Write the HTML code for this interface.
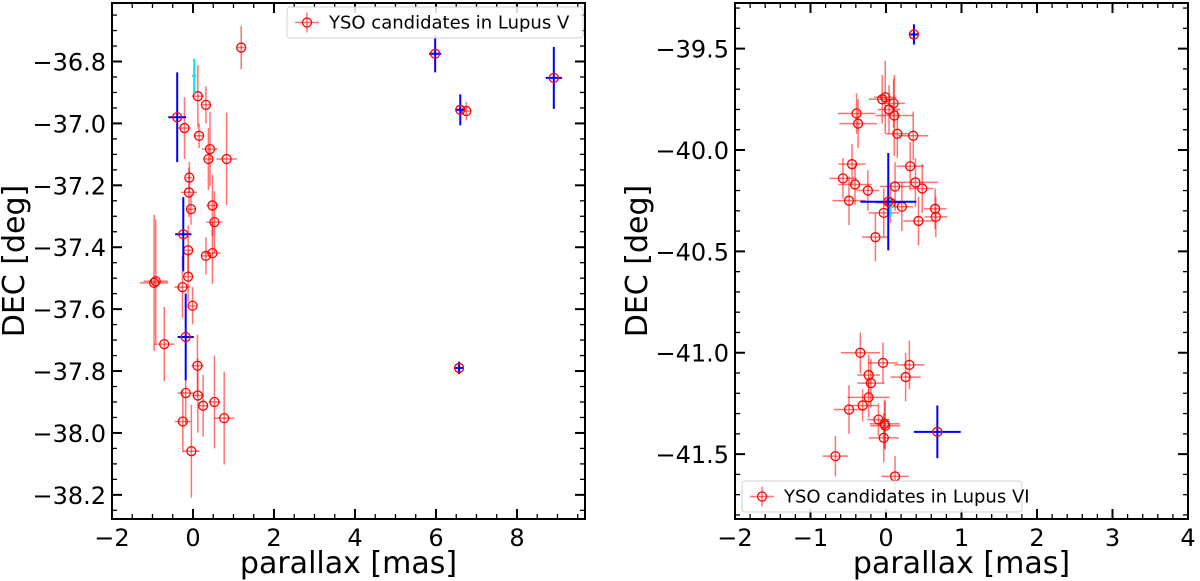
<!DOCTYPE html>
<html><head><meta charset="utf-8"><style>
body{margin:0;background:#fff;}
svg{display:block;font-family:"DejaVu Sans","Liberation Sans",sans-serif;}
</style></head><body>
<svg id="chart" width="1200" height="581" viewBox="0 0 1200 581"></svg>
<script>
// ---- Left panel (Lupus V) data ----
const lRedX=[1.19,0.12,0.32,-0.21,0.15,0.42,0.38,0.83,-0.09,-0.10,-0.05,0.48,0.53,-0.12,0.32,0.48,-0.12,-0.96,-0.92,-0.26,-0.01,-0.71,0.11,-0.18,0.12,0.25,0.53,0.77,-0.25,-0.04,6.75];
const lRedY=[-36.755,-36.912,-36.94,-37.015,-37.04,-37.083,-37.115,-37.115,-37.175,-37.223,-37.277,-37.265,-37.319,-37.41,-37.428,-37.419,-37.495,-37.515,-37.51,-37.529,-37.589,-37.713,-37.783,-37.871,-37.879,-37.912,-37.9,-37.952,-37.963,-38.059,-36.96];
const lRedXe=[0.1,0.15,0.1,0.15,0.1,0.2,0.12,0.25,0.08,0.2,0.1,0.15,0.2,0.12,0.12,0.2,0.12,0.35,0.3,0.2,0.08,0.25,0.15,0.2,0.15,0.12,0.15,0.25,0.2,0.2,0.1];
const lRedYe=[0.07,0.1,0.06,0.1,0.04,0.12,0.1,0.15,0.05,0.08,0.05,0.1,0.1,0.08,0.06,0.1,0.08,0.22,0.2,0.1,0.06,0.12,0.1,0.1,0.12,0.1,0.15,0.15,0.1,0.15,0.03];
const lBlueX=[-0.39,-0.24,-0.18,5.98,6.60,8.91,6.57];
const lBlueY=[-36.98,-37.358,-37.69,-36.775,-36.956,-36.853,-37.79];
const lBlueXe=[0.22,0.2,0.2,0.15,0.12,0.2,0.1];
const lBlueYe=[0.145,0.12,0.14,0.06,0.05,0.1,0.02];
const lCyanX=[0.03];
const lCyanY=[-36.846];
const lCyanXe=[0.05];
const lCyanYe=[0.055];
// ---- Right panel (Lupus VI) data ----
const rRedX=[-0.01,-0.05,0.10,0.04,0.11,-0.39,-0.37,0.15,0.36,-0.45,0.32,-0.57,-0.41,0.12,0.39,0.48,-0.24,-0.49,0.06,0.21,0.65,0.66,-0.03,0.43,-0.14,-0.34,-0.04,0.31,-0.23,-0.20,0.26,-0.23,-0.31,-0.49,-0.10,-0.02,-0.01,-0.03,-0.67,0.12];
const rRedY=[-39.74,-39.75,-39.77,-39.80,-39.83,-39.82,-39.87,-39.92,-39.93,-40.07,-40.08,-40.14,-40.17,-40.18,-40.16,-40.19,-40.20,-40.25,-40.26,-40.28,-40.29,-40.33,-40.31,-40.35,-40.43,-41.00,-41.05,-41.06,-41.11,-41.15,-41.12,-41.22,-41.26,-41.28,-41.33,-41.35,-41.36,-41.42,-41.51,-41.61];
const rRedXe=[0.15,0.18,0.15,0.15,0.25,0.25,0.25,0.15,0.2,0.18,0.18,0.18,0.22,0.2,0.3,0.15,0.15,0.22,0.2,0.15,0.15,0.15,0.2,0.2,0.18,0.26,0.2,0.2,0.15,0.18,0.2,0.28,0.2,0.2,0.15,0.2,0.2,0.2,0.17,0.18];
const rRedYe=[0.18,0.12,0.12,0.12,0.2,0.1,0.12,0.12,0.12,0.1,0.12,0.1,0.1,0.12,0.12,0.12,0.1,0.12,0.1,0.12,0.1,0.1,0.12,0.12,0.12,0.1,0.1,0.12,0.1,0.12,0.12,0.1,0.08,0.12,0.08,0.12,0.12,0.12,0.1,0.1];
const rBlueX=[0.37,0.03,0.68];
const rBlueY=[-39.43,-40.255,-41.39];
const rBlueXe=[0.06,0.37,0.31];
const rBlueYe=[0.05,0.24,0.13];
const rCyanX=[0.06];
const rCyanY=[-40.28];
const rCyanXe=[0.04];
const rCyanYe=[0.05];

const NS="http://www.w3.org/2000/svg";
const svg=document.getElementById('chart');
function mk(tag,attrs,parent){const e=document.createElementNS(NS,tag);for(const k in attrs)e.setAttribute(k,attrs[k]);(parent||svg).appendChild(e);return e;}

function panel(cfg){
  const g=mk('g',{});
  
  
  const sx=v=>cfg.x0+(v-cfg.xmin)/(cfg.xmax-cfg.xmin)*(cfg.x1-cfg.x0);
  const sy=v=>cfg.y0+(cfg.ymax-v)/(cfg.ymax-cfg.ymin)*(cfg.y1-cfg.y0);
  function series(X,Y,XE,YE,color,op,name,lw,marker){
    for(let i=0;i<X.length;i++){
      const p=mk('g',{},g);
      
      
      const cx=sx(X[i]),cy=sy(Y[i]);
      mk('line',{x1:sx(X[i]-XE[i]),x2:sx(X[i]+XE[i]),y1:cy,y2:cy,stroke:color,'stroke-width':lw,'stroke-opacity':op},p);
      mk('line',{x1:cx,x2:cx,y1:sy(Y[i]-YE[i]),y2:sy(Y[i]+YE[i]),stroke:color,'stroke-width':lw,'stroke-opacity':op},p);
      if(marker) mk('circle',{cx:cx,cy:cy,r:4.5,fill:'none',stroke:'#ff0000','stroke-width':1.3},p);
    }
  }
  series(cfg.red[0],cfg.red[1],cfg.red[2],cfg.red[3],'#ff0000',0.55,'red-yso-point',1.5,true);
  series(cfg.cyan[0],cfg.cyan[1],cfg.cyan[2],cfg.cyan[3],'#00e5ee',1,'cyan-point',2,false);
  series(cfg.blue[0],cfg.blue[1],cfg.blue[2],cfg.blue[3],'#0000ff',1,'blue-point',2,true);
  const fr=mk('rect',{x:cfg.x0,y:cfg.y0,width:cfg.x1-cfg.x0,height:cfg.y1-cfg.y0,fill:'none',stroke:'#000','stroke-width':2},g);
  
  
  const eps=1e-9;
  for(let v=Math.ceil(cfg.xmin/cfg.xminor-eps)*cfg.xminor;v<=cfg.xmax+eps;v+=cfg.xminor){
    const major=Math.abs(v/cfg.xmajor-Math.round(v/cfg.xmajor))<1e-6;
    const L=major?10:5,x=sx(v);
    mk('line',{x1:x,x2:x,y1:cfg.y1,y2:cfg.y1-L,stroke:'#000','stroke-width':major?2:1.3},g);
    mk('line',{x1:x,x2:x,y1:cfg.y0,y2:cfg.y0+L,stroke:'#000','stroke-width':major?2:1.3},g);
    if(major){
      const t=mk('text',{x:x,y:cfg.y1+27,'font-size':24,'text-anchor':'middle',fill:'#000'},g);
      t.textContent=(Math.round(v)<0?'\u2212':'')+Math.abs(Math.round(v));
      
      
    }
  }
  for(let v=Math.ceil(cfg.ymin/cfg.yminor-eps)*cfg.yminor;v<=cfg.ymax+eps;v+=cfg.yminor){
    const major=Math.abs(v/cfg.ymajor-Math.round(v/cfg.ymajor))<1e-6;
    const L=major?10:5,y=sy(v);
    mk('line',{x1:cfg.x0,x2:cfg.x0+L,y1:y,y2:y,stroke:'#000','stroke-width':major?2:1.3},g);
    mk('line',{x1:cfg.x1,x2:cfg.x1-L,y1:y,y2:y,stroke:'#000','stroke-width':major?2:1.3},g);
    if(major){
      const t=mk('text',{x:cfg.x0-6,y:y+9,'font-size':24,'text-anchor':'end',fill:'#000'},g);
      t.textContent='\u2212'+Math.abs(v).toFixed(1);
      
      
    }
  }
  const xl=mk('text',{x:(cfg.x0+cfg.x1)/2,y:573,'font-size':30,'text-anchor':'middle',fill:'#000'},g);
  xl.textContent='parallax [mas]';
  
  
  const yx=cfg.x0-cfg.ylabOff;
  const yl=mk('text',{x:yx,y:(cfg.y0+cfg.y1)/2,'font-size':30,'text-anchor':'middle',fill:'#000',transform:`rotate(-90 ${yx} ${(cfg.y0+cfg.y1)/2})`},g);
  yl.textContent='DEC [deg]';
  
  
  const lg=mk('g',{},g);
  
  
  const [lx,ly,lw2,lh]=cfg.leg;
  mk('rect',{x:lx,y:ly,width:lw2,height:lh,rx:3,fill:'#fff','fill-opacity':0.85,stroke:'#d0d0d0','stroke-width':1},lg);
  const mx=lx+20,my=ly+lh/2;
  mk('line',{x1:mx-12,x2:mx+12,y1:my,y2:my,stroke:'#ff0000','stroke-opacity':0.55,'stroke-width':1.5},lg);
  mk('line',{x1:mx,x2:mx,y1:my-10,y2:my+10,stroke:'#ff0000','stroke-opacity':0.55,'stroke-width':1.5},lg);
  mk('circle',{cx:mx,cy:my,r:4.5,fill:'none',stroke:'#ff0000','stroke-width':1.3},lg);
  const lt=mk('text',{x:lx+42,y:my+6,'font-size':18,fill:'#000'},lg);
  lt.textContent=cfg.legText;
  
  
}

panel({name:'lupus-v-panel',x0:112,x1:585,y0:3,y1:519,xmin:-2,xmax:9.68,ymin:-38.278,ymax:-36.611,
  xmajor:2,xminor:0.5,ymajor:0.2,yminor:0.05,ylabOff:88,
  red:[lRedX,lRedY,lRedXe,lRedYe],blue:[lBlueX,lBlueY,lBlueXe,lBlueYe],cyan:[lCyanX,lCyanY,lCyanXe,lCyanYe],
  leg:[287,7,296,31],legText:'YSO candidates in Lupus V'});
panel({name:'lupus-vi-panel',x0:735,x1:1188,y0:3,y1:519,xmin:-2,xmax:4,ymin:-41.82,ymax:-39.275,
  xmajor:1,xminor:0.2,ymajor:0.5,yminor:0.1,ylabOff:88,
  red:[rRedX,rRedY,rRedXe,rRedYe],blue:[rBlueX,rBlueY,rBlueXe,rBlueYe],cyan:[rCyanX,rCyanY,rCyanXe,rCyanYe],
  leg:[742,481,280,31],legText:'YSO candidates in Lupus VI'});
</script>
</body></html>
